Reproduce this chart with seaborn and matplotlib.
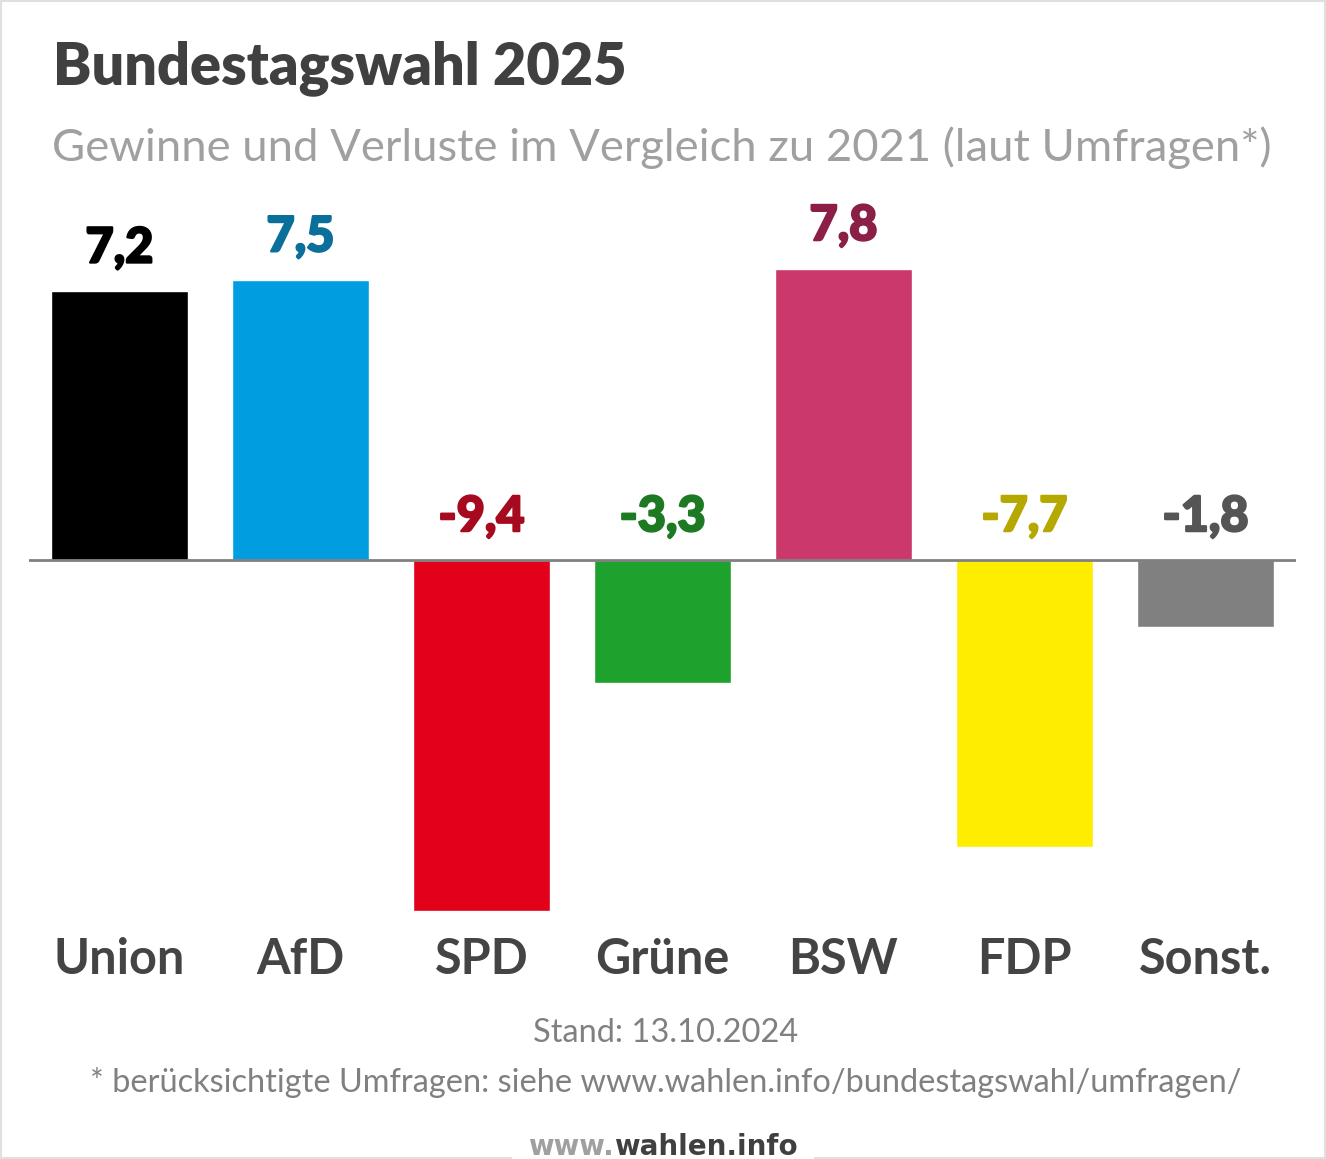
import matplotlib
matplotlib.use("Agg")
import matplotlib.pyplot as plt
import matplotlib.patheffects as pe
from matplotlib.patches import Rectangle
import seaborn as sns
import pandas as pd

parties = ["Union", "AfD", "SPD", "Grüne", "BSW", "FDP", "Sonst."]
changes = [7.2, 7.5, -9.4, -3.3, 7.8, -7.7, -1.8]
labels = ["7,2", "7,5", "-9,4", "-3,3", "7,8", "-7,7", "-1,8"]
bar_colors = ["#000000", "#009ee0", "#e2001a", "#1fa12e", "#cb386b", "#ffed00", "#808080"]
label_colors = ["#000000", "#0b6f9c", "#a50a1e", "#1d7a22", "#8c1f47", "#b5a800", "#555555"]

df = pd.DataFrame({"party": parties, "change": changes})

sns.set_theme(style="white")
plt.rcParams["font.family"] = ["Lato", "DejaVu Sans"]

W, H = 1326, 1159
fig = plt.figure(figsize=(W / 100, H / 100), dpi=100)
fig.patch.set_facecolor("white")

# axes placement in pixels
ax_left, ax_right = 29, 1296
ax_top, ax_bottom = 205.6, 933
ax = fig.add_axes([ax_left / W, 1 - ax_bottom / H, (ax_right - ax_left) / W, (ax_bottom - ax_top) / H])
ax.set_facecolor("white")

sns.barplot(data=df, x="party", y="change", hue="party", palette=bar_colors,
            order=parties, hue_order=parties, legend=False, width=0.757,
            saturation=1, ax=ax, zorder=2)
ax.set_xlim(-0.5, 6.5)
ax.set_ylim(-10, 9.5)
ax.axhline(0, color="#808080", lw=2, zorder=3)
for s in ax.spines.values():
    s.set_visible(False)
ax.set_xticks([])
ax.set_yticks([])
ax.set_xlabel("")
ax.set_ylabel("")

# value labels
for i, (v, t, c) in enumerate(zip(changes, labels, label_colors)):
    y = v if v > 0 else 0
    ax.annotate(t, (i, y), xytext=(0, 15), textcoords="offset points",
                ha="center", va="bottom", fontsize=35, fontweight="black", color=c,
                path_effects=[pe.withStroke(linewidth=1.6, foreground=c)])

# category labels
for i, p in enumerate(parties):
    fig.text((ax_left + (ax_right - ax_left) * (i + 0.5) / 7) / W, 1 - 960 / H, p,
             ha="center", va="center", fontsize=35, fontweight="bold", color="#444444")

fig.text(53 / W, 1 - 68 / H, "Bundestagswahl 2025", ha="left", va="center",
         fontsize=41.5, fontweight="heavy", color="#404040")
fig.text(52 / W, 1 - 148 / H, "Gewinne und Verluste im Vergleich zu 2021 (laut Umfragen*)",
         ha="left", va="center", fontsize=32.7, color="#a0a0a0")

fig.text(666 / W, 1 - 1033 / H, "Stand: 13.10.2024", ha="center", va="center",
         fontsize=23.5, color="#808080")
fig.text(666 / W, 1 - 1082 / H,
         "* berücksichtigte Umfragen: siehe www.wahlen.info/bundestagswahl/umfragen/",
         ha="center", va="center", fontsize=23.4, color="#808080")

# border
fig.patches.append(Rectangle((1 / W, 1 / H), 1 - 2 / W, 1 - 2 / H, transform=fig.transFigure,
                             fill=False, edgecolor="#e0e0e0", lw=1.5, zorder=0))
fig.patches.append(Rectangle((512 / W, 0), 302 / W, 8 / H, transform=fig.transFigure,
                             facecolor="white", edgecolor="none", zorder=1))
fig.text(614 / W, 1 - 1147 / H, "www.", ha="right", va="center", fontsize=20,
         fontweight="bold", color="#a0a0a0", family="DejaVu Sans", zorder=5)
fig.text(614 / W, 1 - 1147 / H, "wahlen.info", ha="left", va="center", fontsize=20,
         fontweight="bold", color="#404040", family="DejaVu Sans", zorder=5)

fig.savefig("out.png", dpi=100, facecolor="white")
